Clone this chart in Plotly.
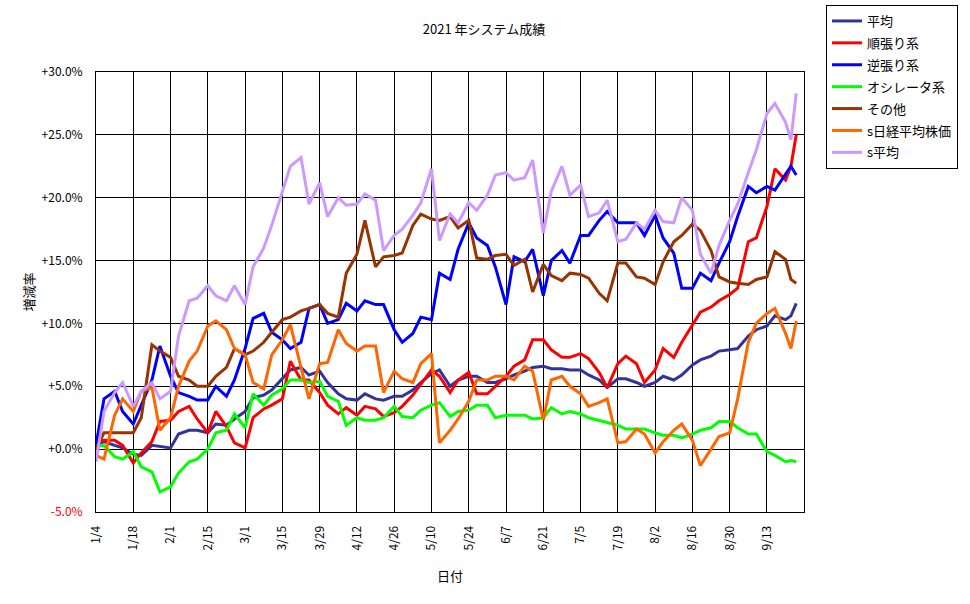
import plotly.graph_objects as go

DATES = ["2021-01-04", "2021-01-07", "2021-01-11", "2021-01-14", "2021-01-18", "2021-01-21",
         "2021-01-25", "2021-01-28", "2021-02-01", "2021-02-04", "2021-02-08", "2021-02-11",
         "2021-02-15", "2021-02-18", "2021-02-22", "2021-02-25", "2021-03-01", "2021-03-04",
         "2021-03-08", "2021-03-11", "2021-03-15", "2021-03-18", "2021-03-22", "2021-03-25",
         "2021-03-29", "2021-04-01", "2021-04-05", "2021-04-08", "2021-04-12", "2021-04-15",
         "2021-04-19", "2021-04-22", "2021-04-26", "2021-04-29", "2021-05-03", "2021-05-06",
         "2021-05-10", "2021-05-13", "2021-05-17", "2021-05-20", "2021-05-24", "2021-05-27",
         "2021-05-31", "2021-06-03", "2021-06-07", "2021-06-10", "2021-06-14", "2021-06-17",
         "2021-06-21", "2021-06-24", "2021-06-28", "2021-07-01", "2021-07-05", "2021-07-08",
         "2021-07-12", "2021-07-15", "2021-07-19", "2021-07-22", "2021-07-26", "2021-07-29",
         "2021-08-02", "2021-08-05", "2021-08-09", "2021-08-12", "2021-08-16", "2021-08-19",
         "2021-08-23", "2021-08-26", "2021-08-30", "2021-09-02", "2021-09-06", "2021-09-09",
         "2021-09-13", "2021-09-16", "2021-09-20", "2021-09-22", "2021-09-24"]

HEIKIN = [0.35, 0.6, 0.3, 0.1, -0.4, -0.5, 0.3, 0.2, 0.1, 1.2, 1.5, 1.5,
          1.3, 2.0, 1.9, 2.4, 3.0, 4.1, 4.3, 4.7, 5.6, 6.3, 6.5, 5.9,
          6.2, 5.3, 4.4, 4.0, 3.9, 4.4, 4.0, 3.9, 4.2, 4.2, 4.7, 5.3,
          6.0, 6.3, 5.0, 5.5, 5.8, 5.8, 5.3, 5.3, 5.6, 5.9, 6.2, 6.5,
          6.6, 6.4, 6.4, 6.3, 6.3, 5.9, 5.5, 4.9, 5.6, 5.6, 5.3, 5.0,
          5.3, 5.8, 5.5, 5.9, 6.7, 7.1, 7.4, 7.8, 7.9, 8.0, 9.0, 9.5,
          9.8, 10.6, 10.3, 10.6, 11.6]

JUNBARI = [0.5, 0.7, 0.7, 0.3, -1.1, -0.3, 0.6, 2.2, 2.3, 3.0, 3.4, 2.4,
           1.3, 3.0, 1.8, 0.5, 0.1, 2.5, 3.2, 3.5, 4.0, 7.0, 5.5, 5.5,
           4.5, 3.5, 2.8, 3.3, 2.7, 3.4, 3.2, 2.6, 2.9, 3.4, 4.3, 5.2,
           6.3, 5.8, 4.5, 5.5, 6.1, 4.4, 4.4, 5.0, 5.8, 6.6, 7.1, 8.7,
           8.7, 7.9, 7.3, 7.3, 7.6, 7.2, 6.1, 4.9, 6.8, 7.4, 6.8, 5.3,
           6.3, 8.0, 7.3, 8.5, 9.9, 10.9, 11.3, 11.8, 12.3, 12.8, 16.5, 16.8,
           19.3, 22.3, 21.4, 22.5, 25.0]

GYAKUBARI = [0.3, 4.0, 4.6, 3.0, 2.0, 3.5, 5.5, 8.2, 5.8, 4.5, 4.2, 3.9,
             3.9, 5.0, 4.2, 5.5, 8.0, 10.4, 10.8, 9.3, 8.7, 8.0, 8.5, 11.2,
             11.5, 10.0, 10.3, 11.6, 11.0, 11.8, 11.5, 11.5, 9.5, 8.5, 9.2, 10.5,
             10.3, 14.0, 13.5, 15.9, 18.0, 16.8, 16.2, 14.5, 11.5, 15.3, 14.9, 15.9,
             12.2, 15.0, 15.8, 14.8, 17.0, 17.0, 18.2, 18.9, 18.0, 18.0, 18.0, 17.0,
             18.6, 16.8, 15.6, 12.8, 12.8, 14.0, 13.4, 14.8, 16.5, 18.5, 20.9, 20.4,
             20.9, 20.6, 21.8, 22.5, 21.8]

OSC = [0.2, 0.3, -0.6, -0.8, -0.2, -1.4, -1.8, -3.4, -3.0, -1.9, -1.0, -0.8,
       0.0, 1.3, 1.5, 2.8, 1.7, 4.4, 3.5, 4.3, 4.8, 5.5, 5.5, 5.3,
       5.4, 4.2, 3.8, 1.9, 2.5, 2.3, 2.3, 2.5, 3.4, 2.6, 2.5, 3.1,
       3.5, 3.7, 2.6, 3.0, 3.1, 3.5, 3.5, 2.5, 2.7, 2.7, 2.7, 2.4,
       2.5, 3.3, 2.8, 3.0, 2.8, 2.5, 2.3, 2.1, 1.9, 1.6, 1.6, 1.6,
       1.3, 1.1, 1.1, 0.9, 1.2, 1.5, 1.7, 2.2, 2.2, 1.7, 1.2, 1.2,
       -0.2, -0.5, -1.0, -0.9, -1.0]

SONOTA = [0.0, 1.3, 1.3, 1.3, 1.3, 2.5, 8.3, 7.8, 7.3, 5.8, 5.5, 5.0,
          5.0, 5.8, 6.5, 8.0, 7.5, 7.8, 8.5, 9.3, 10.3, 10.5, 11.0, 11.2,
          11.5, 10.8, 10.5, 14.0, 15.5, 18.2, 14.5, 15.3, 15.4, 15.6, 17.8, 18.7,
          18.3, 18.2, 18.5, 17.6, 18.2, 15.2, 15.1, 15.4, 15.5, 14.6, 15.1, 12.5,
          14.7, 13.8, 13.4, 14.0, 13.9, 13.6, 12.4, 11.8, 14.8, 14.8, 13.7, 13.6,
          13.1, 14.9, 16.5, 17.0, 17.9, 17.4, 15.8, 13.7, 13.3, 13.2, 13.1, 13.5,
          13.7, 15.7, 15.1, 13.5, 13.2]

NIKKEI = [-0.5, -0.8, 2.7, 4.0, 3.0, 4.6, 4.9, 1.5, 2.5, 5.0, 7.0, 7.8,
          9.8, 10.2, 9.5, 8.0, 7.5, 5.3, 4.8, 7.5, 8.7, 9.9, 6.5, 4.0,
          6.8, 6.9, 9.5, 8.4, 7.8, 8.2, 8.2, 4.5, 6.2, 5.6, 5.3, 6.8,
          7.6, 0.5, 1.5, 2.4, 3.8, 5.5, 5.5, 5.8, 5.8, 5.5, 6.6, 6.2,
          2.3, 5.5, 5.8, 5.0, 4.4, 3.4, 3.7, 4.0, 0.5, 0.6, 1.6, 1.2,
          -0.3, 0.6, 1.5, 2.0, 0.7, -1.3, 0.0, 1.0, 1.3, 4.0, 8.5, 10.0,
          10.8, 11.2, 9.2, 8.0, 10.2]

S_HEIKIN = [-1.0, 3.0, 4.5, 5.3, 3.4, 4.6, 5.3, 4.0, 4.6, 9.0, 11.8, 12.0,
            13.0, 12.2, 11.8, 13.0, 11.5, 14.5, 16.0, 17.8, 20.5, 22.5, 23.2, 19.5,
            21.2, 18.5, 20.0, 19.4, 19.5, 20.3, 19.8, 15.8, 17.0, 17.5, 18.6, 19.6,
            22.3, 16.6, 18.7, 18.0, 19.6, 19.0, 20.2, 21.8, 22.0, 21.4, 21.6, 23.0,
            17.2, 20.5, 22.5, 20.2, 21.0, 18.5, 18.8, 19.8, 16.5, 16.7, 18.0, 17.5,
            19.0, 18.1, 18.0, 20.0, 19.0, 15.5, 14.0, 16.2, 18.2, 19.5, 22.0, 23.8,
            26.7, 27.5, 26.0, 24.6, 28.3]

SERIES_NAMES = ["平均", "順張り系", "逆張り系", "オシレータ系", "その他", "s日経平均株価", "s平均"]
SERIES_COLORS = ["#333399", "#FF0000", "#0000FF", "#00FF00", "#993300", "#FF6600", "#CC99FF"]
SERIES_VALUES = [HEIKIN, JUNBARI, GYAKUBARI, OSC, SONOTA, NIKKEI, S_HEIKIN]

Y_TICKS = [-5, 0, 5, 10, 15, 20, 25, 30]
Y_TICK_TEXT = ["<span style='color:#FF0000'>-5.0%</span>", "+0.0%", "+5.0%", "+10.0%",
               "+15.0%", "+20.0%", "+25.0%", "+30.0%"]

FONT = "Noto Sans CJK JP, Noto Sans, sans-serif"

fig = go.Figure()
for name, color, vals in zip(SERIES_NAMES, SERIES_COLORS, SERIES_VALUES):
    assert len(vals) == len(DATES), name
    fig.add_trace(go.Scatter(x=DATES, y=vals, mode="lines", name=name,
                             legendgroup=name,
                             line=dict(color=color, width=3)))

fig.update_layout(
    width=970, height=604,
    margin=dict(l=96, r=166, t=72, b=92, autoexpand=False),
    paper_bgcolor="white", plot_bgcolor="white",
    font=dict(family=FONT, size=12, color="black"),
    title=dict(text="2021 年システム成績", x=484 / 970, xanchor="center",
               y=1 - 29 / 604, yanchor="middle", font=dict(size=13, family=FONT)),
    showlegend=True,
    legend=dict(xref="container", yref="container",
                x=826 / 970, y=1 - 5 / 604, xanchor="left", yanchor="top",
                bordercolor="black", borderwidth=1, bgcolor="white",
                font=dict(size=13, family=FONT), tracegroupgap=2,
                itemwidth=30),
)

fig.update_xaxes(
    type="date", range=["2021-01-04", "2021-09-26 22:00"], automargin=False,
    tick0="2021-01-04", dtick=14 * 86400000, tickformat="%-m/%-d",
    tickangle=-90, ticklabelstandoff=8,
    showgrid=True, gridcolor="black", gridwidth=1,
    showline=True, linecolor="black", linewidth=1, mirror=True,
    zeroline=False, ticks="",
    title=dict(text="日付", font=dict(size=13, family=FONT), standoff=22),
    tickfont=dict(size=12, family=FONT),
)
fig.update_yaxes(
    range=[-5, 30], tickvals=Y_TICKS, ticktext=Y_TICK_TEXT, automargin=False,
    ticklabelstandoff=10,
    showgrid=True, gridcolor="black", gridwidth=1,
    showline=True, linecolor="black", linewidth=1, mirror=True,
    zeroline=False, ticks="",
    title=dict(text="増減率", font=dict(size=13, family=FONT), standoff=4),
    tickfont=dict(size=12, family=FONT),
)

fig.write_html("out.html", config={"displayModeBar": False},
               post_script="document.body.style.margin='0px';document.body.style.padding='0px';")
